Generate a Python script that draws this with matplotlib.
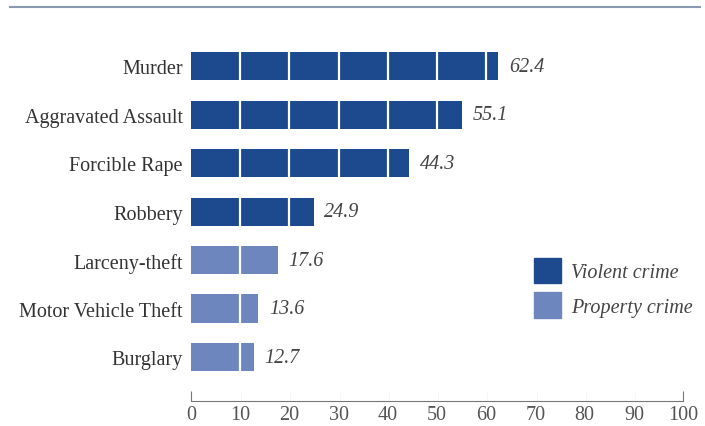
import matplotlib.pyplot as plt
from matplotlib.patches import Patch

categories = ["Murder", "Aggravated Assault", "Forcible Rape", "Robbery",
              "Larceny-theft", "Motor Vehicle Theft", "Burglary"]
values = [62.4, 55.1, 44.3, 24.9, 17.6, 13.6, 12.7]
kinds = ["Violent crime"] * 4 + ["Property crime"] * 3
x_ticks = [0, 10, 20, 30, 40, 50, 60, 70, 80, 90, 100]

colors = {"Violent crime": "#1d4a8e", "Property crime": "#6e86be"}
plt.rcParams["font.family"] = ["Liberation Serif", "DejaVu Serif"]
FS = 14.5

fig = plt.figure(figsize=(7.05, 4.27), dpi=100)
ax = fig.add_axes([0.271, 0.0585, 0.698, 0.871])

ypos = list(range(len(categories)))
ax.barh(ypos, values, height=0.58, color=[colors[k] for k in kinds], zorder=1)
for x in x_ticks[1:-1]:
    ax.axvline(x, color="white", lw=1.6, zorder=2)
for y, v in zip(ypos, values):
    ax.text(v + 2.2, y, f"{v:.1f}", va="center", ha="left", fontsize=FS,
            style="italic", color="#444444")

ax.set_xlim(0, 100)
ax.set_ylim(6.907, -0.763)
ax.set_xticks(x_ticks)
ax.set_yticks(ypos)
ax.set_yticklabels(categories, fontsize=FS, color="#333333")
ax.tick_params(axis="y", length=0, pad=6)
ax.tick_params(axis="x", direction="in", length=7, color="#777777",
               labelsize=FS, labelcolor="#555555", pad=3)
for s in ["top", "right", "left"]:
    ax.spines[s].set_visible(False)
ax.spines["bottom"].set_color("#777777")

handles = [Patch(color=colors["Violent crime"]), Patch(color=colors["Property crime"])]
ax.legend(handles, ["Violent crime", "Property crime"], loc="center left",
          bbox_to_anchor=(0.66, 0.304), frameon=False,
          prop={"style": "italic", "size": FS}, labelcolor="#444444",
          handlelength=1.35, handleheight=1.6, labelspacing=0.45, handletextpad=0.5)

fig.add_artist(plt.Line2D([0.014, 0.993], [0.982, 0.982], color="#8a9ab0", lw=1.5))

fig.savefig("out.png", dpi=100)
